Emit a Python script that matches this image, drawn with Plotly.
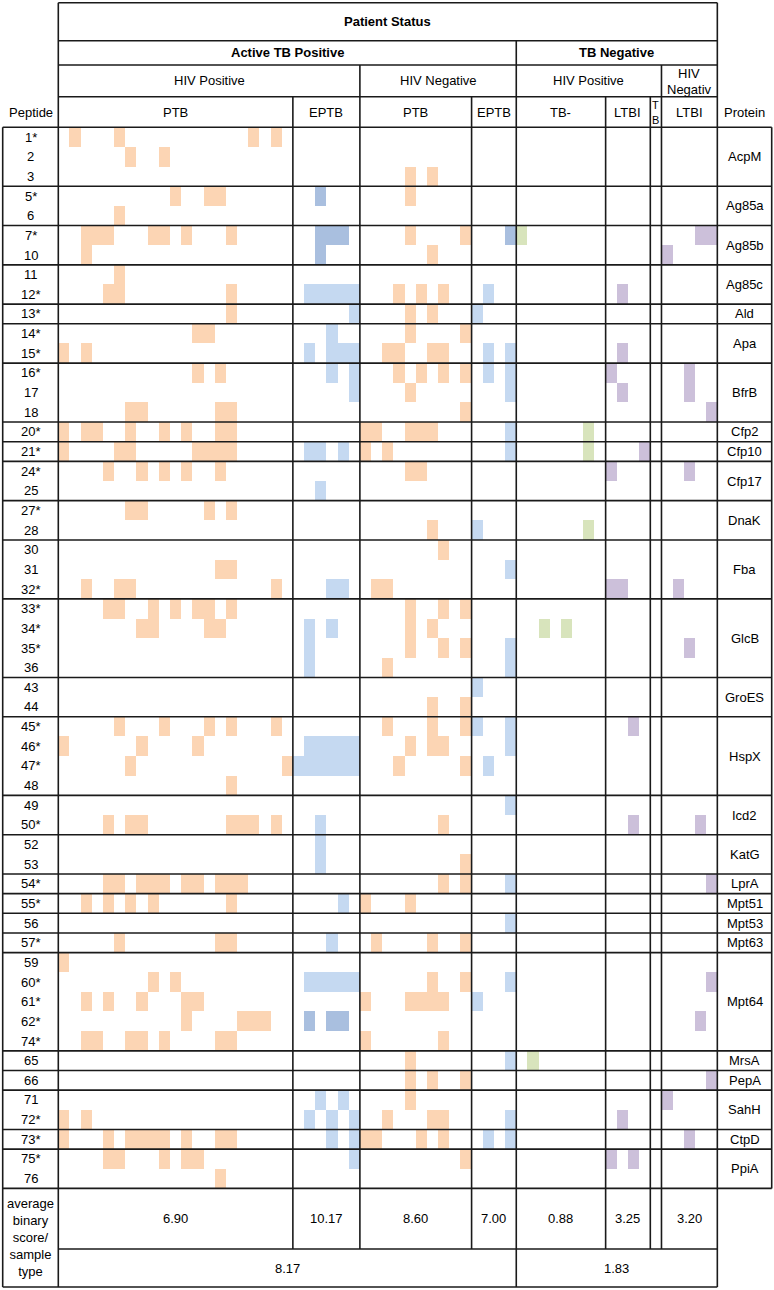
import plotly.graph_objects as go

# ---------------- data ----------------
peptides = ["1*", "2", "3", "5*", "6", "7*", "10", "11", "12*", "13*", "14*", "15*", "16*", "17", "18",
            "20*", "21*", "24*", "25", "27*", "28", "30", "31", "32*", "33*", "34*", "35*", "36", "43", "44",
            "45*", "46*", "47*", "48", "49", "50*", "52", "53", "54*", "55*", "56", "57*", "59", "60*", "61*",
            "62*", "74*", "65", "66", "71", "72*", "73*", "75*", "76"]
proteins = ["AcpM", "Ag85a", "Ag85b", "Ag85c", "Ald", "Apa", "BfrB", "Cfp2", "Cfp10", "Cfp17", "DnaK", "Fba",
            "GlcB", "GroES", "HspX", "Icd2", "KatG", "LprA", "Mpt51", "Mpt53", "Mpt63", "Mpt64", "MrsA", "PepA",
            "SahH", "CtpD", "PpiA"]
protein_sizes = [3, 2, 2, 2, 1, 2, 3, 1, 1, 2, 2, 3, 4, 2, 4, 2, 2, 1, 1, 1, 1, 5, 1, 1, 2, 1, 2]
sample_types = ["PTB", "EPTB", "PTB", "EPTB", "TB-", "LTBI", "TB", "LTBI"]
sample_counts = [21, 6, 10, 4, 8, 4, 1, 5]
avg_scores = ["6.90", "10.17", "8.60", "7.00", "0.88", "3.25", "", "3.20"]
status_avgs = ["8.17", "1.83"]

# positive samples per peptide row: colour code -> sample column indices
hits = [
    {"o": [1, 5, 17, 19]},
    {"o": [6, 9]},
    {"o": [31, 33]},
    {"o": [10, 13, 14, 31], "B": [23]},
    {"o": [5]},
    {"o": [2, 3, 4, 8, 9, 11, 15, 31, 36], "B": [23, 24, 25, 40], "g": [41], "p": [57, 58]},
    {"o": [2, 33], "B": [23], "p": [54]},
    {"o": [5]},
    {"o": [4, 5, 15, 30, 32, 34], "b": [22, 23, 24, 25, 26, 38], "p": [50]},
    {"o": [15, 31, 33], "b": [26, 37]},
    {"o": [12, 13, 31, 36], "b": [24]},
    {"o": [0, 2, 29, 30, 33, 34], "b": [22, 24, 25, 26, 38, 40], "p": [50]},
    {"o": [12, 14, 30, 32, 34, 36], "b": [24, 26, 38, 40], "p": [49, 56]},
    {"o": [31], "b": [26, 40], "p": [50, 56]},
    {"o": [6, 7, 14, 15, 36], "p": [58]},
    {"o": [0, 2, 3, 6, 9, 11, 14, 15, 27, 28, 31, 32, 33], "b": [40], "g": [47]},
    {"o": [0, 5, 6, 12, 13, 14, 15, 27, 29], "b": [22, 23, 25, 40], "g": [47], "p": [52]},
    {"o": [4, 7, 9, 11, 14, 31, 32], "p": [49, 56]},
    {"b": [23]},
    {"o": [6, 7, 13, 15]},
    {"o": [33], "b": [37], "g": [47]},
    {"o": [34]},
    {"o": [14, 15], "b": [40]},
    {"o": [2, 5, 6, 19, 28, 29], "b": [24, 25], "p": [49, 50, 55]},
    {"o": [4, 5, 8, 10, 12, 13, 15, 31, 34, 36]},
    {"o": [7, 8, 13, 14, 31, 33], "b": [22, 24], "g": [43, 45]},
    {"o": [31, 34, 36], "b": [22, 40], "p": [56]},
    {"o": [29], "b": [22, 40]},
    {"b": [37]},
    {"o": [33, 36]},
    {"o": [5, 9, 13, 15, 19, 29, 33, 36], "b": [37, 40], "p": [51]},
    {"o": [0, 7, 12, 31, 33, 34], "b": [22, 23, 24, 25, 26, 40]},
    {"o": [6, 20, 30, 36], "b": [21, 22, 23, 24, 25, 26, 38]},
    {"o": [15]},
    {"b": [40]},
    {"o": [4, 6, 7, 15, 16, 17, 19, 34], "b": [23], "p": [51, 57]},
    {"b": [23]},
    {"o": [36], "b": [23]},
    {"o": [4, 5, 7, 8, 9, 11, 12, 14, 15, 16, 34, 36], "b": [40], "p": [58]},
    {"o": [2, 4, 6, 8, 15, 27, 31], "b": [25]},
    {"b": [40]},
    {"o": [5, 14, 15, 28, 33, 36], "b": [24]},
    {"o": [0]},
    {"o": [8, 10, 33, 36], "b": [22, 23, 24, 25, 26, 40], "p": [58]},
    {"o": [2, 4, 7, 11, 12, 27, 31, 32, 33, 34], "b": [37]},
    {"o": [11, 16, 17, 18], "B": [22, 24, 25], "p": [57]},
    {"o": [2, 3, 6, 7, 9, 14, 15, 27, 34]},
    {"o": [31], "b": [40], "g": [42]},
    {"o": [31, 33, 36], "p": [58]},
    {"o": [31], "b": [23, 25], "p": [54]},
    {"o": [0, 2, 29, 33, 34], "b": [22, 24, 26, 40], "p": [50]},
    {"o": [0, 4, 6, 7, 8, 9, 11, 14, 15, 27, 28, 32, 34], "b": [24, 26, 38, 40], "p": [56]},
    {"o": [4, 5, 9, 11, 12, 36], "b": [26], "p": [49, 51]},
    {"o": [14]},
]

colors = {"o": "#fcd5b4", "b": "#c5d9f1", "B": "#a9bfdf", "g": "#d8e4bc", "p": "#ccc0da"}

# ---------------- geometry (layout only) ----------------
W, H = 774, 1290
X0, CW = 58.3, 11.17     # px of first sample column, column width
Y0, RH = 127.3, 19.65    # px of first peptide row, row height


def ux(px):
    return (px - X0) / CW


def uy(px):
    return (px - Y0) / RH


ncol = sum(sample_counts)
nrow = len(peptides)
FONT = "Liberation Sans, Arial, sans-serif"
LC = "#1a1a1a"
LW = 1.6

fig = go.Figure()

xs = [k + 0.5 for k in range(ncol)]
ys = [r + 0.5 for r in range(nrow)]
for code, col in colors.items():
    z = [[None] * ncol for _ in range(nrow)]
    for r, row in enumerate(hits):
        for k in row.get(code, []):
            z[r][k] = 1
    fig.add_trace(go.Heatmap(x=xs, y=ys, z=z, colorscale=[[0, col], [1, col]], zmin=0, zmax=1,
                             showscale=False, hoverinfo="skip", xgap=0, ygap=0))

shapes = []


def hline(y, x1, x2):
    shapes.append(dict(type="line", xref="x", yref="y", x0=x1, x1=x2, y0=y, y1=y,
                       line=dict(color=LC, width=LW)))


def vline(x, y1, y2):
    shapes.append(dict(type="line", xref="x", yref="y", x0=x, x1=x, y0=y1, y1=y2,
                       line=dict(color=LC, width=LW)))


yA, yB, yC, yD = uy(2.7), uy(40.7), uy(65.0), uy(96.7)
yAvg = nrow
ySamp = uy(1249.0)
yEnd = uy(1287.0)
xL = ux(2.7)
xR = ux(771.7)

# header horizontal lines
for yy in (yA, yB, yC, yD):
    hline(yy, 0, ncol)
hline(0, xL, xR)
# protein group separators
acc = 0
for s in protein_sizes:
    acc += s
    hline(acc, xL, xR)
hline(ySamp, 0, ncol)
hline(yEnd, xL, ncol)

# verticals
vline(xL, 0, yEnd)
vline(0, yA, yEnd)
vline(ncol, yA, yEnd)
vline(xR, 0, yAvg)
bounds = []
acc = 0
for c in sample_counts:
    bounds.append(acc)
    acc += c
act_end = sum(sample_counts[:4])
vline(act_end, yB, yEnd)
vline(bounds[2], yC, ySamp)
vline(bounds[7], yC, ySamp)
for b in (bounds[1], bounds[3], bounds[5], bounds[6]):
    vline(b, yD, ySamp)

ann = []


def text(x, y, t, size=13, bold=False):
    ann.append(dict(x=x, y=y, xref="x", yref="y", text=("<b>%s</b>" % t) if bold else t,
                    showarrow=False, xanchor="center", yanchor="middle",
                    font=dict(family=FONT, size=size, color="#000")))


text(ncol / 2, (yA + yB) / 2, "Patient Status", bold=True)
text(act_end / 2, (yB + yC) / 2, "Active TB Positive", bold=True)
text((act_end + ncol) / 2, (yB + yC) / 2, "TB Negative", bold=True)
text(bounds[2] / 2, (yC + yD) / 2, "HIV Positive")
text((bounds[2] + act_end) / 2, (yC + yD) / 2, "HIV Negative")
text((act_end + bounds[7]) / 2, (yC + yD) / 2, "HIV Positive")
text((bounds[7] + ncol) / 2, uy(73), "HIV")
text((bounds[7] + ncol) / 2, uy(89), "Negativ")

xpep = (xL + 0) / 2
xprot = (ncol + xR) / 2
text(xpep, yD / 2, "Peptide")
text(xprot, yD / 2, "Protein")
for i, (name, c) in enumerate(zip(sample_types, sample_counts)):
    cx = bounds[i] + c / 2
    if name == "TB":
        text(cx, uy(105), "T", size=11)
        text(cx, uy(120), "B", size=11)
    else:
        text(cx, yD / 2, name)
    if avg_scores[i]:
        text(cx, (yAvg + ySamp) / 2, avg_scores[i])

for r, p in enumerate(peptides):
    text(xpep, r + 0.5, p)
acc = 0
for name, s in zip(proteins, protein_sizes):
    text(xprot, acc + s / 2, name)
    acc += s

text(act_end / 2, (ySamp + yEnd) / 2, status_avgs[0])
text((act_end + ncol) / 2, (ySamp + yEnd) / 2, status_avgs[1])
ann.append(dict(x=xpep, y=(yAvg + yEnd) / 2, xref="x", yref="y",
                text="average<br>binary<br>score/<br>sample<br>type", showarrow=False,
                xanchor="center", yanchor="middle", font=dict(family=FONT, size=13, color="#000")))

fig.update_layout(
    width=W, height=H, margin=dict(l=0, r=0, t=0, b=0),
    paper_bgcolor="white", plot_bgcolor="white", showlegend=False,
    xaxis=dict(range=[ux(0), ux(W)], visible=False, fixedrange=True),
    yaxis=dict(range=[uy(H), uy(0)], visible=False, fixedrange=True),
    shapes=shapes, annotations=ann,
)

fig.write_html("out.html", config={"displayModeBar": False},
               post_script="document.body.style.margin='0';document.body.style.overflow='hidden';")
